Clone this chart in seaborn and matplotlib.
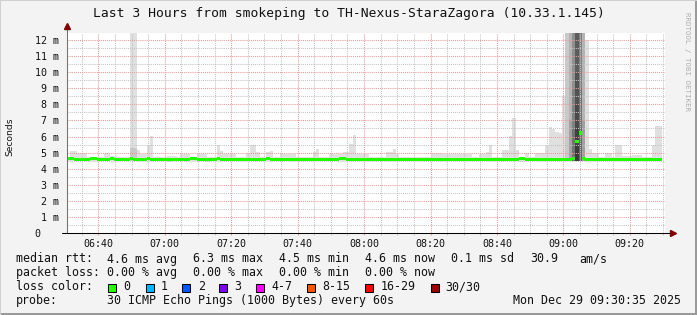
import matplotlib
matplotlib.use("Agg")
import matplotlib.pyplot as plt
import seaborn as sns
import numpy as np
import pandas as pd
from matplotlib.patches import Rectangle

W, H, DPI = 697, 315, 100

title = "Last 3 Hours from smokeping to TH-Nexus-StaraZagora (10.33.1.145)"
y_label = "Seconds"
watermark = "RRDTOOL / TOBI OETIKER"
start_minute = 30.58          # 06:30:35 as minutes after 06:00
end_minute = 210.58           # 09:30:35
xtick_positions = [40, 60, 80, 100, 120, 140, 160, 180, 200]
xtick_labels = ["06:40", "07:00", "07:20", "07:40", "08:00", "08:20", "08:40", "09:00", "09:20"]
xminor_positions = [35, 45, 50, 55, 65, 70, 75, 85, 90, 95, 105, 110, 115, 125, 130, 135,
                    145, 150, 155, 165, 170, 175, 185, 190, 195, 205, 210]
ytick_values = [0, 1, 2, 3, 4, 5, 6, 7, 8, 9, 10, 11, 12]
ytick_labels = ["0   ", "1 m", "2 m", "3 m", "4 m", "5 m", "6 m", "7 m", "8 m", "9 m",
                "10 m", "11 m", "12 m"]
yminor_values = [0.5, 1.5, 2.5, 3.5, 4.5, 5.5, 6.5, 7.5, 8.5, 9.5, 10.5, 11.5]
y_max = 12.44

# per-minute smoke upper edge (ms)
smoke_max = [
    4.72, 5.1, 5.1, 4.95, 4.95, 4.95, 4.72, 4.72, 4.72, 4.72,
    4.72, 4.95, 4.95, 4.8, 4.8, 4.75, 4.75, 4.75, 4.75, 12.6,
    12.6, 5.15, 4.9, 4.9, 5.5, 6.05, 4.75, 4.72, 4.72, 4.72,
    4.8, 4.8, 4.8, 4.72, 4.9, 4.9, 4.9, 4.72, 4.72, 4.9,
    4.9, 4.9, 4.72, 4.72, 4.72, 5.45, 5.1, 4.9, 4.9, 4.9,
    4.9, 4.72, 4.72, 4.72, 5.0, 5.45, 5.45, 5.05, 4.72, 4.72,
    5.05, 5.1, 4.72, 4.72, 4.9, 4.9, 4.9, 4.9, 4.9, 4.72,
    4.72, 4.72, 4.72, 4.72, 5.05, 5.25, 4.72, 4.72, 4.72, 4.9,
    4.9, 4.9, 4.9, 5.05, 5.05, 5.55, 6.1, 4.9, 4.9, 4.9,
    4.9, 4.72, 4.72, 4.72, 4.72, 4.72, 5.05, 5.05, 5.25, 4.9,
    4.72, 4.72, 4.75, 4.75, 4.75, 4.72, 4.72, 4.72, 4.72, 4.72,
    5.0, 5.0, 5.0, 4.9, 4.9, 4.9, 4.9, 4.9, 4.9, 4.9,
    4.9, 4.9, 4.72, 4.72, 4.9, 4.9, 5.05, 5.45, 4.72, 4.72,
    4.72, 5.15, 5.15, 6.05, 7.15, 5.15, 4.68, 4.68, 5.0, 4.72,
    4.72, 4.95, 4.95, 4.95, 5.5, 6.6, 6.45, 6.3, 6.2, 8.5,
    12.6, 12.6, 12.6, 12.6, 12.6, 12.6, 12.0, 5.2, 5.0, 5.0,
    4.72, 4.72, 4.95, 4.95, 4.72, 5.45, 5.45, 4.8, 4.8, 4.8,
    4.85, 4.85, 4.85, 4.72, 4.72, 4.72, 5.45, 6.65, 6.65,
]
# per-minute smoke lower edge (ms)
smoke_min = [
    4.5, 4.5, 4.5, 4.5, 4.5, 4.5, 4.5, 4.5, 4.5, 4.5,
    4.5, 4.5, 4.5, 4.5, 4.5, 4.45, 4.45, 4.5, 4.5, 4.45,
    4.45, 4.5, 4.5, 4.5, 4.5, 4.5, 4.5, 4.5, 4.5, 4.5,
    4.42, 4.42, 4.45, 4.5, 4.5, 4.5, 4.5, 4.5, 4.5, 4.5,
    4.5, 4.42, 4.42, 4.5, 4.5, 4.5, 4.5, 4.5, 4.5, 4.5,
    4.5, 4.5, 4.5, 4.5, 4.5, 4.5, 4.5, 4.5, 4.5, 4.5,
    4.5, 4.5, 4.5, 4.5, 4.5, 4.5, 4.5, 4.45, 4.45, 4.5,
    4.5, 4.5, 4.5, 4.5, 4.5, 4.5, 4.5, 4.5, 4.5, 4.5,
    4.5, 4.5, 4.5, 4.5, 4.5, 4.5, 4.5, 4.5, 4.5, 4.5,
    4.5, 4.5, 4.5, 4.5, 4.5, 4.5, 4.5, 4.5, 4.5, 4.5,
    4.45, 4.45, 4.45, 4.5, 4.5, 4.5, 4.5, 4.5, 4.5, 4.5,
    4.5, 4.5, 4.5, 4.5, 4.5, 4.5, 4.5, 4.5, 4.5, 4.5,
    4.5, 4.5, 4.5, 4.5, 4.5, 4.5, 4.5, 4.5, 4.5, 4.5,
    4.5, 4.5, 4.5, 4.5, 4.5, 4.5, 4.42, 4.42, 4.5, 4.5,
    4.5, 4.45, 4.45, 4.5, 4.5, 4.5, 4.5, 4.5, 4.5, 4.5,
    4.5, 4.5, 4.45, 4.45, 4.45, 4.45, 4.5, 4.5, 4.5, 4.5,
    4.5, 4.5, 4.5, 4.5, 4.45, 4.5, 4.5, 4.5, 4.5, 4.5,
    4.5, 4.5, 4.5, 4.5, 4.5, 4.5, 4.5, 4.5, 4.5,
]
# per-minute median rtt (ms)
median_rtt = [
    4.63, 4.63, 4.6, 4.6, 4.6, 4.6, 4.57, 4.63, 4.63, 4.6,
    4.6, 4.6, 4.6, 4.63, 4.6, 4.6, 4.6, 4.6, 4.6, 4.63,
    4.6, 4.6, 4.57, 4.6, 4.63, 4.6, 4.6, 4.6, 4.6, 4.6,
    4.57, 4.57, 4.6, 4.6, 4.6, 4.6, 4.6, 4.63, 4.63, 4.6,
    4.6, 4.6, 4.6, 4.6, 4.6, 4.63, 4.6, 4.6, 4.6, 4.6,
    4.6, 4.6, 4.6, 4.57, 4.57, 4.6, 4.6, 4.6, 4.6, 4.6,
    4.63, 4.6, 4.6, 4.6, 4.6, 4.6, 4.6, 4.57, 4.57, 4.6,
    4.6, 4.6, 4.6, 4.6, 4.6, 4.6, 4.6, 4.6, 4.6, 4.6,
    4.6, 4.6, 4.63, 4.63, 4.6, 4.6, 4.6, 4.6, 4.6, 4.6,
    4.6, 4.6, 4.6, 4.6, 4.6, 4.6, 4.6, 4.6, 4.6, 4.57,
    4.57, 4.57, 4.6, 4.6, 4.6, 4.6, 4.6, 4.6, 4.6, 4.6,
    4.6, 4.6, 4.6, 4.6, 4.6, 4.6, 4.6, 4.6, 4.6, 4.6,
    4.6, 4.6, 4.6, 4.6, 4.6, 4.6, 4.6, 4.6, 4.6, 4.6,
    4.6, 4.6, 4.6, 4.6, 4.6, 4.6, 4.63, 4.63, 4.6, 4.6,
    4.6, 4.6, 4.6, 4.6, 4.6, 4.6, 4.6, 4.6, 4.6, 4.6,
    4.6, 4.6, 4.62, 5.68, 6.22, 4.62, 4.6, 4.6, 4.6, 4.6,
    4.6, 4.6, 4.6, 4.6, 4.6, 4.6, 4.6, 4.6, 4.6, 4.6,
    4.6, 4.6, 4.6, 4.6, 4.6, 4.6, 4.6, 4.6, 4.6,
]
# extra smoke layers (upper edges, ms) where many pings cluster
dense_floor = 4.5
dense_layers = {
    19: [5.3], 20: [5.3],
    150: [12.6],
    151: [12.6, 12.6, 7.0],
    152: [12.6, 12.6, 12.6, 12.6, 9.0, 6.5],
    153: [12.6, 12.6, 12.6, 12.6, 12.6, 12.6, 12.6, 12.6, 10.0, 8.0, 6.5, 5.5],
    154: [12.6, 12.6, 12.6, 12.6, 12.6, 9.0, 6.5],
    155: [12.6, 12.6, 7.0],
}
median_half_width = 0.095

legend_rows = [
    ["median rtt:", "4.6 ms avg", "6.3 ms max", "4.5 ms min", "4.6 ms now", "0.1 ms sd", "30.9", "am/s"],
    ["packet loss:", "0.00 % avg", "0.00 % max", "0.00 % min", "0.00 % now"],
]
legend_row_x = [
    [16, 107, 193, 279, 365, 451, 530, 579],
    [16, 107, 193, 279, 365],
]
legend_baselines = [262.5, 276.4, 290.3, 304.2]
loss_title = "loss color:"
loss_labels = ["0", "1", "2", "3", "4-7", "8-15", "16-29", "30/30"]
loss_colors = ["#26ff00", "#00b8ff", "#0059ff", "#7e00ff", "#ff00ff", "#ff5500", "#ff0000", "#a10000"]
loss_box_x = [108, 146, 182, 219, 256, 307, 365, 431]
loss_text_x = [123, 161, 198, 234, 271, 322, 381, 445]
probe_title = "probe:"
probe_text = "30 ICMP Echo Pings (1000 Bytes) every 60s"
timestamp = "Mon Dec 29 09:30:35 2025"

sns.set_theme(style="white")
plt.rcParams["font.family"] = ["DejaVu Sans Mono", "DejaVu Sans"]

def fx(x):
    return x / W

def fy(y):
    return 1 - y / H

fig = plt.figure(figsize=(W / DPI, H / DPI), dpi=DPI, facecolor="#f3f3f3")
ax = fig.add_axes([fx(67), fy(233), 598 / W, 200 / H])
ax.set_facecolor("white")

n = len(smoke_max)
edges = start_minute + np.arange(n + 1)

def ext(a):
    a = np.asarray(a, dtype=float)
    return np.append(a, a[-1])

ax.fill_between(edges, ext(smoke_min), ext(smoke_max), step="post",
                color="#e0e0e0", lw=0, zorder=1)
for minute, uppers in dense_layers.items():
    for up in uppers:
        ax.fill_between(edges[minute:minute + 2], [dense_floor, dense_floor], [up, up],
                        color="black", alpha=0.1, lw=0, zorder=2)

med = np.asarray(median_rtt)
ax.fill_between(edges, ext(med - median_half_width), ext(med + median_half_width),
                step="post", color="#22ff00", lw=0, zorder=3)

ax.set_xlim(start_minute, end_minute)
ax.set_ylim(0, y_max)
ax.set_xticks(xtick_positions, xtick_labels)
ax.set_xticks(xminor_positions, minor=True)
ax.set_yticks(ytick_values, ytick_labels)
ax.set_yticks(yminor_values, minor=True)
ax.grid(which="major", color="#e89a9a", linestyle=(0, (1, 1)), lw=0.75)
ax.grid(which="minor", color="#c4c4c4", linestyle=(0, (1, 1)), lw=0.75)
ax.set_axisbelow(False)
for s in ax.spines.values():
    s.set_visible(False)
ax.tick_params(axis="x", which="major", length=1.5, width=0.75, color="#e89a9a",
               pad=3.0, labelsize=7.2, labelcolor="#111111", bottom=True)
ax.tick_params(axis="x", which="minor", length=1.5, width=0.75, color="#c4c4c4", bottom=True)
ax.tick_params(axis="y", which="both", length=0, pad=5.8, labelsize=7.2, labelcolor="#111111")

# axes lines with arrows
ax.plot([0, 0], [0, 1 + 6 / 200], transform=ax.transAxes, color="#707070", lw=0.75,
        clip_on=False, zorder=5)
ax.plot([-5 / 598, 1 + 5 / 598], [0, 0], transform=ax.transAxes, color="black", lw=0.75,
        clip_on=False, zorder=5)
ax.plot([0], [1 + 7 / 200], marker="^", ms=4, color="#800000", transform=ax.transAxes,
        clip_on=False, zorder=6)
ax.plot([1 + 8 / 598], [0], marker=">", ms=4, color="#800000", transform=ax.transAxes,
        clip_on=False, zorder=6)

# texts
fig.text(fx(348.5), fy(17.5), title, ha="center", va="baseline", fontsize=9.4, color="#111111")
fig.text(fx(10), fy(137), y_label, ha="center", va="center", rotation=90, fontsize=6.6,
         family="DejaVu Sans", color="#111111")
fig.text(fx(686.5), fy(62), watermark, ha="center", va="center", rotation=270, fontsize=5.4,
         color="#b0b0b0")

for row, xs, yb in zip(legend_rows, legend_row_x, legend_baselines):
    for txt, x in zip(row, xs):
        fig.text(fx(x), fy(yb), txt, ha="left", va="baseline", fontsize=8.35, color="#111111")
fig.text(fx(16), fy(legend_baselines[2]), loss_title, ha="left", va="baseline", fontsize=8.35,
         color="#111111")
for lab, col, bx, tx in zip(loss_labels, loss_colors, loss_box_x, loss_text_x):
    fig.add_artist(Rectangle((fx(bx), fy(291.5)), 8 / W, 8 / H, transform=fig.transFigure,
                             facecolor=col, edgecolor="black", lw=0.75))
    fig.text(fx(tx), fy(legend_baselines[2]), lab, ha="left", va="baseline", fontsize=8.35,
             color="#111111")
fig.text(fx(16), fy(legend_baselines[3]), probe_title, ha="left", va="baseline", fontsize=8.35,
         color="#111111")
fig.text(fx(107), fy(legend_baselines[3]), probe_text, ha="left", va="baseline", fontsize=8.35,
         color="#111111")
fig.text(fx(513), fy(legend_baselines[3]), timestamp, ha="left", va="baseline", fontsize=8.35,
         color="#111111")

# frame
fig.add_artist(Rectangle((0, 0), 1, 2 / H, transform=fig.transFigure, color="#9a9a9a", lw=0))
fig.add_artist(Rectangle((1 - 2 / W, 0), 2 / W, 1, transform=fig.transFigure, color="#9a9a9a", lw=0))
fig.add_artist(Rectangle((0, 1 - 1 / H), 1, 1 / H, transform=fig.transFigure, color="#d0d0d0", lw=0))
fig.add_artist(Rectangle((0, 0), 1 / W, 1, transform=fig.transFigure, color="#d0d0d0", lw=0))

fig.savefig("out.png", dpi=DPI, facecolor=fig.get_facecolor())
